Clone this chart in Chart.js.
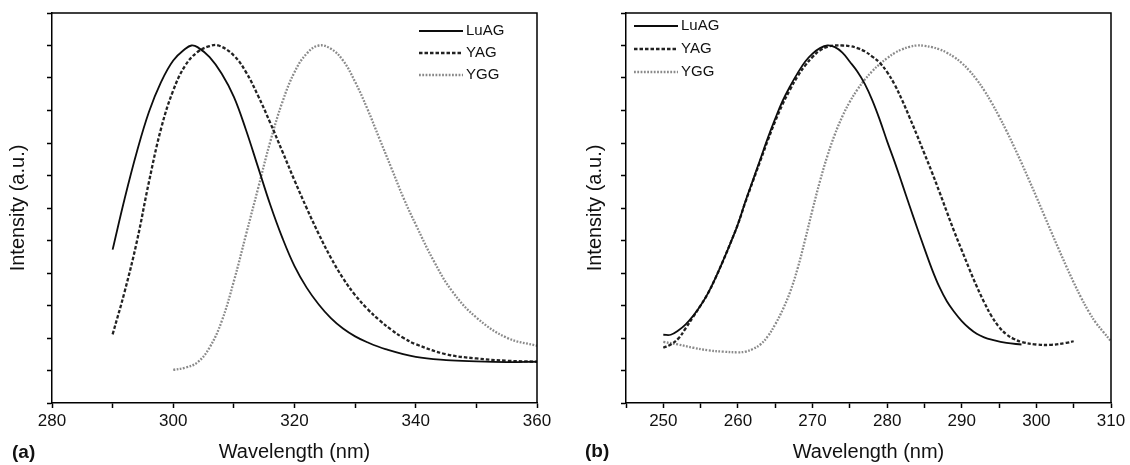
<!DOCTYPE html>
<html>
<head>
<meta charset="utf-8">
<script src="https://cdn.jsdelivr.net/npm/chart.js@4.4.1/dist/chart.umd.min.js"></script>
<style>
  html, body { margin: 0; padding: 0; background: #fff; }
  #wrap { position: relative; width: 1130px; height: 465px; overflow: hidden; }
  #wrap canvas { position: absolute; top: 0; }
  #cA { left: 0; }
  #cB { left: 575px; }
</style>
</head>
<body>
<div id="wrap">
  <canvas id="cA" width="575" height="465"></canvas>
  <canvas id="cB" width="555" height="465"></canvas>
</div>
<script>
  // (a) emission spectra
  const aLuagX = [290, 292, 294, 296, 298, 300, 302, 303, 304, 306, 308, 310, 312, 314, 316, 318, 320, 322, 324, 326, 328, 330, 332, 335, 340, 345, 350, 355, 360];
  const aLuagY = [4.72, 6.3, 7.73, 8.96, 9.88, 10.54, 10.9, 11.0, 10.95, 10.64, 10.13, 9.42, 8.4, 7.25, 6.1, 5.08, 4.21, 3.55, 3.03, 2.61, 2.29, 2.05, 1.87, 1.66, 1.42, 1.32, 1.28, 1.26, 1.27];
  const aYagX = [290, 292, 294, 296, 298, 300, 302, 304, 306, 307.5, 310, 312, 314, 316, 318, 320, 322, 324, 326, 328, 330, 332, 334, 336, 338, 340, 345, 350, 355, 360];
  const aYagY = [2.11, 3.44, 4.97, 6.81, 8.45, 9.62, 10.39, 10.8, 10.98, 11.0, 10.69, 10.18, 9.45, 8.62, 7.74, 6.85, 6.0, 5.2, 4.47, 3.84, 3.32, 2.9, 2.55, 2.25, 2.0, 1.81, 1.5, 1.37, 1.3, 1.27];
  const aYggX = [300, 302, 304, 306, 308, 310, 312, 314, 316, 318, 320, 322, 324, 326, 328, 330, 332, 334, 336, 338, 340, 343, 346, 350, 355, 360];
  const aYggY = [1.02, 1.09, 1.25, 1.71, 2.52, 3.75, 5.18, 6.61, 8.04, 9.26, 10.18, 10.75, 11.0, 10.9, 10.54, 9.88, 9.06, 8.14, 7.22, 6.3, 5.49, 4.36, 3.44, 2.63, 2.01, 1.76];

  // (b) excitation spectra
  const bLuagX = [250, 251, 252, 253, 254, 255, 256, 257, 258, 259, 260, 261, 262, 263, 264, 265, 266, 267, 268, 269, 270, 271, 272, 273, 274, 275, 276, 277, 278, 279, 280, 281, 282, 283, 284, 285, 286, 287, 288, 289, 290, 291, 292, 293, 294, 296, 298];
  const bLuagY = [2.1, 2.1, 2.23, 2.42, 2.68, 3.0, 3.38, 3.85, 4.37, 4.92, 5.5, 6.2, 6.85, 7.5, 8.15, 8.75, 9.3, 9.75, 10.15, 10.5, 10.75, 10.92, 11.0, 10.95, 10.78, 10.5, 10.2, 9.82, 9.32, 8.72, 8.05, 7.42, 6.75, 6.07, 5.4, 4.75, 4.12, 3.57, 3.13, 2.8, 2.52, 2.3, 2.13, 2.02, 1.95, 1.85, 1.8];
  const bYagX = [250, 251, 252, 253, 254, 255, 256, 257, 258, 259, 260, 261, 262, 263, 264, 265, 266, 267, 268, 269, 270, 271, 272, 273, 274, 275, 276, 277, 278, 279, 280, 281, 282, 283, 284, 285, 286, 287, 288, 289, 290, 291, 292, 293, 294, 295, 296, 297, 298, 300, 302, 304, 305];
  const bYagY = [1.7, 1.8, 1.98, 2.3, 2.65, 3.0, 3.38, 3.85, 4.37, 4.92, 5.5, 6.18, 6.82, 7.45, 8.08, 8.67, 9.2, 9.65, 10.05, 10.38, 10.65, 10.85, 10.96, 11.0, 11.0, 10.98, 10.92, 10.82, 10.66, 10.47, 10.18, 9.8, 9.32, 8.79, 8.24, 7.67, 7.1, 6.5, 5.88, 5.27, 4.7, 4.13, 3.59, 3.1, 2.67, 2.34, 2.11, 1.97, 1.88, 1.8, 1.79, 1.85, 1.9];
  const bYggX = [250, 252, 254, 256, 258, 260, 261, 262, 263, 264, 265, 266, 267, 268, 269, 270, 271, 272, 273, 274, 275, 276, 277, 278, 279, 280, 281, 282, 283, 284, 285, 286, 287, 288, 289, 290, 291, 292, 293, 294, 295, 296, 297, 298, 299, 300, 301, 302, 303, 304, 305, 306, 307, 308, 309, 310];
  const bYggY = [1.88, 1.8, 1.7, 1.62, 1.58, 1.56, 1.58, 1.66, 1.8, 2.05, 2.42, 2.87, 3.42, 4.14, 5.02, 5.95, 6.83, 7.61, 8.27, 8.82, 9.27, 9.64, 9.95, 10.21, 10.43, 10.61, 10.77, 10.88, 10.96, 11.0, 10.99, 10.95, 10.88, 10.78, 10.64, 10.46, 10.23, 9.95, 9.62, 9.24, 8.82, 8.37, 7.89, 7.39, 6.87, 6.34, 5.8, 5.26, 4.73, 4.21, 3.71, 3.24, 2.82, 2.46, 2.18, 1.9];

  const seriesNames = ['LuAG', 'YAG', 'YGG'];

  Chart.defaults.font.family = '"Liberation Sans", Arial, sans-serif';
  Chart.defaults.color = '#111';

  const pts = (xs, ys) => xs.map((x, i) => ({ x: x, y: ys[i] }));

  function lineSet(label, xs, ys, kind) {
    const base = {
      label: label,
      data: pts(xs, ys),
      pointRadius: 0,
      fill: false,
      tension: 0.4
    };
    if (kind === 0) return Object.assign(base, { borderColor: '#0d0d0d', borderWidth: 1.8 });
    if (kind === 1) return Object.assign(base, { borderColor: '#222', borderWidth: 2.3, borderDash: [3.5, 2] });
    return Object.assign(base, { borderColor: '#8a8a8a', borderWidth: 2.3, borderDash: [1.8, 1.5] });
  }

  // frame on top/right, panel tag and legend
  const decor = {
    id: 'decor',
    afterDatasetsDraw(chart, args, o) {
      const ctx = chart.ctx;
      const a = chart.chartArea;
      ctx.save();
      ctx.strokeStyle = '#000';
      ctx.lineWidth = 1.5;
      ctx.beginPath();
      ctx.moveTo(a.left, a.top);
      ctx.lineTo(a.right, a.top);
      ctx.lineTo(a.right, a.bottom);
      ctx.stroke();

      ctx.font = '15px "Liberation Sans", Arial, sans-serif';
      ctx.textBaseline = 'middle';
      ctx.fillStyle = '#111';
      chart.data.datasets.forEach((ds, i) => {
        const y = o.rows[i];
        ctx.strokeStyle = ds.borderColor;
        ctx.lineWidth = ds.borderWidth;
        ctx.setLineDash(ds.borderDash || []);
        ctx.beginPath();
        ctx.moveTo(o.x0, y);
        ctx.lineTo(o.x1, y);
        ctx.stroke();
        ctx.fillText(ds.label, o.tx, y);
      });
      ctx.setLineDash([]);

      ctx.font = 'bold 19px "Liberation Sans", Arial, sans-serif';
      ctx.fillText(o.tag, o.tagX, o.tagY);
      ctx.restore();
    }
  };

  function makeChart(id, sets, xMin, xMax, xStep, labelEvery, yAxisW, padRight, yTitlePad, deco) {
    return new Chart(document.getElementById(id), {
      type: 'line',
      data: { datasets: sets },
      plugins: [decor],
      options: {
        responsive: false,
        animation: false,
        devicePixelRatio: 1,
        layout: { padding: { left: 0, right: padRight, top: 13, bottom: 0 } },
        plugins: { legend: { display: false }, tooltip: { enabled: false }, decor: deco },
        scales: {
          x: {
            type: 'linear',
            min: xMin,
            max: xMax,
            afterFit: s => { s.height = 62; },
            border: { display: true, color: '#000', width: 1.5 },
            grid: { drawOnChartArea: false, drawTicks: true, tickLength: 5, tickColor: '#000', tickWidth: 1.5 },
            ticks: {
              stepSize: xStep,
              autoSkip: false,
              maxRotation: 0,
              padding: 3,
              font: { size: 17 },
              callback: v => (v % labelEvery === 0 ? String(v) : '')
            },
            title: {
              display: true,
              text: 'Wavelength (nm)',
              font: { size: 20 },
              padding: { top: 0, bottom: 1 }
            }
          },
          y: {
            min: 0,
            max: 12,
            afterFit: s => { s.width = yAxisW; },
            border: { display: true, color: '#000', width: 1.5 },
            grid: { drawOnChartArea: false, drawTicks: true, tickLength: 5, tickColor: '#000', tickWidth: 1.5 },
            ticks: { stepSize: 1, display: false },
            title: {
              display: true,
              text: 'Intensity (a.u.)',
              font: { size: 20 },
              padding: { top: yTitlePad, bottom: 0 }
            }
          }
        }
      }
    });
  }

  makeChart('cA', [
    lineSet(seriesNames[0], aLuagX, aLuagY, 0),
    lineSet(seriesNames[1], aYagX, aYagY, 1),
    lineSet(seriesNames[2], aYggX, aYggY, 2)
  ], 280, 360, 10, 20, 52, 38, 6,
  { x0: 419, x1: 463, tx: 466, rows: [31, 53, 75], tag: '(a)', tagX: 12, tagY: 453 });

  makeChart('cB', [
    lineSet(seriesNames[0], bLuagX, bLuagY, 0),
    lineSet(seriesNames[1], bYagX, bYagY, 1),
    lineSet(seriesNames[2], bYggX, bYggY, 2)
  ], 245, 310, 5, 10, 51, 19, 8,
  { x0: 59, x1: 103, tx: 106, rows: [26, 49, 72], tag: '(b)', tagX: 10, tagY: 452 });
</script>
</body>
</html>
